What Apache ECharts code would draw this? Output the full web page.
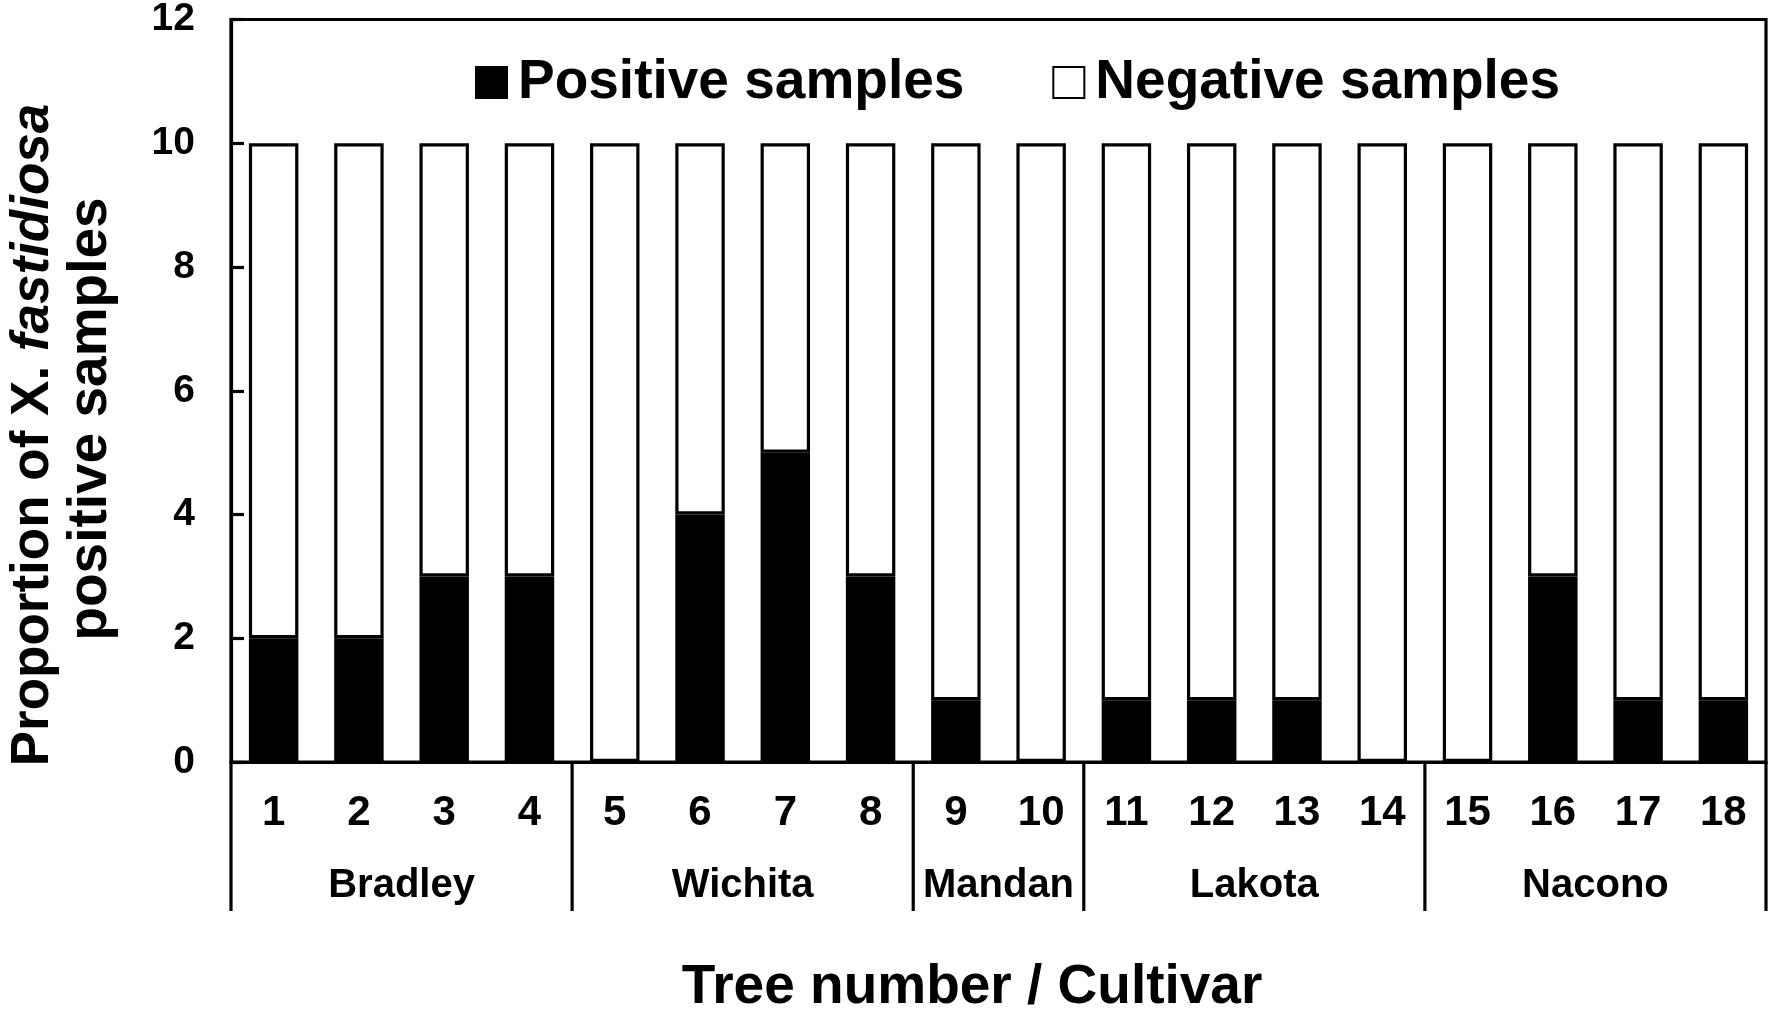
<!DOCTYPE html>
<html>
<head>
<meta charset="utf-8">
<script src="https://cdn.jsdelivr.net/npm/echarts@6/dist/echarts.min.js"></script>
<style>
  html, body { margin: 0; padding: 0; background: #fff; }
  #chart { width: 1772px; height: 1013px; }
</style>
</head>
<body>
<div id="chart"></div>
<script>
var treeNumbers = ['1','2','3','4','5','6','7','8','9','10','11','12','13','14','15','16','17','18'];
var positiveSamples = [2, 2, 3, 3, 0, 4, 5, 3, 1, 0, 1, 1, 1, 0, 0, 3, 1, 1];
var negativeSamples = [8, 8, 7, 7, 10, 6, 5, 7, 9, 10, 9, 9, 9, 10, 10, 7, 9, 9];
var cultivarNames = ['Bradley', 'Wichita', 'Mandan', 'Lakota', 'Nacono'];
var cultivarSizes = [4, 4, 2, 4, 4];
var yTicks = { min: 0, max: 12, interval: 2 };

var FONT = 'Liberation Sans, Arial, sans-serif';
var LINE_W = 3.2;

// cultivar spans as [firstIndex, lastIndex]
var cultivarSpans = [];
var idx = 0;
cultivarNames.forEach(function (name, i) {
    cultivarSpans.push([idx, idx + cultivarSizes[i] - 1]);
    idx += cultivarSizes[i];
});

var chart = echarts.init(document.getElementById('chart'), null, {renderer: 'canvas'});

function renderCultivar(params, api) {
    var band = api.size([1, 0])[0];
    var p0 = api.coord([api.value(0), 0]);
    var p1 = api.coord([api.value(1), 0]);
    var xl = p0[0] - band / 2;
    var xr = p1[0] + band / 2;
    var y0 = p0[1];
    var children = [{
        type: 'line',
        shape: {x1: xl, y1: y0, x2: xl, y2: y0 + 149},
        style: {stroke: '#000', lineWidth: LINE_W}
    }, {
        type: 'text',
        x: (xl + xr) / 2,
        y: y0 + 124,
        style: {
            text: cultivarNames[params.dataIndex],
            fontFamily: FONT, fontWeight: 'bold', fontSize: 40,
            fill: '#000', align: 'center', verticalAlign: 'middle'
        }
    }];
    if (params.dataIndex === cultivarNames.length - 1) {
        children.push({
            type: 'line',
            shape: {x1: xr, y1: y0, x2: xr, y2: y0 + 149},
            style: {stroke: '#000', lineWidth: LINE_W}
        });
    }
    return {type: 'group', children: children};
}

var option = {
    animation: false,
    backgroundColor: '#fff',
    grid: {
        left: 231, right: 6, top: 19, bottom: 251,
        show: true, borderColor: '#000', borderWidth: LINE_W, backgroundColor: 'transparent'
    },
    legend: {
        left: 470, top: 50,
        itemWidth: 31, itemHeight: 31, itemGap: 88,
        data: [{name: 'Positive samples', icon: 'rect'}, {name: 'Negative samples', icon: 'rect'}],
        itemStyle: {borderWidth: 2},
        textStyle: {
            fontFamily: FONT, fontWeight: 'bold', fontSize: 55, color: '#000',
            padding: [0, 0, 0, 6]
        }
    },
    xAxis: {
        type: 'category',
        data: treeNumbers,
        axisLine: {lineStyle: {color: '#000', width: LINE_W}},
        axisTick: {show: false},
        axisLabel: {
            fontFamily: FONT, fontWeight: 'bold', fontSize: 42, color: '#000', margin: 30
        }
    },
    yAxis: {
        type: 'value',
        min: yTicks.min, max: yTicks.max, interval: yTicks.interval,
        axisLine: {show: true, lineStyle: {color: '#000', width: LINE_W}},
        axisTick: {show: true, inside: true, length: 13, lineStyle: {color: '#000', width: LINE_W}},
        splitLine: {show: false},
        axisLabel: {
            fontFamily: FONT, fontWeight: 'bold', fontSize: 39, color: '#000', margin: 36
        }
    },
    series: [{
        name: 'Positive samples',
        type: 'bar',
        stack: 'total',
        barCategoryGap: '42%',
        data: positiveSamples,
        itemStyle: {color: '#000', borderColor: '#000', borderWidth: LINE_W}
    }, {
        name: 'Negative samples',
        type: 'bar',
        stack: 'total',
        barCategoryGap: '42%',
        data: negativeSamples,
        itemStyle: {color: '#fff', borderColor: '#000', borderWidth: LINE_W}
    }, {
        type: 'custom',
        silent: true,
        clip: false,
        data: cultivarSpans,
        encode: {x: [0, 1]},
        renderItem: renderCultivar
    }],
    graphic: [{
        type: 'text',
        x: 33, y: 435,
        rotation: Math.PI / 2,
        style: {
            text: '{n|Proportion of X. }{i|fastidiosa}',
            align: 'center', verticalAlign: 'middle',
            rich: {
                n: {fontFamily: FONT, fontWeight: 'bold', fontSize: 53, fill: '#000'},
                i: {fontFamily: FONT, fontWeight: 'bold', fontStyle: 'italic', fontSize: 53, fill: '#000'}
            }
        }
    }, {
        type: 'text',
        x: 91, y: 419,
        rotation: Math.PI / 2,
        style: {
            text: 'positive samples',
            fontFamily: FONT, fontWeight: 'bold', fontSize: 55, fill: '#000',
            align: 'center', verticalAlign: 'middle'
        }
    }, {
        type: 'text',
        x: 972, y: 988,
        style: {
            text: 'Tree number / Cultivar',
            fontFamily: FONT, fontWeight: 'bold', fontSize: 55, fill: '#000',
            align: 'center', verticalAlign: 'middle'
        }
    }]
};

chart.setOption(option);
</script>
</body>
</html>
